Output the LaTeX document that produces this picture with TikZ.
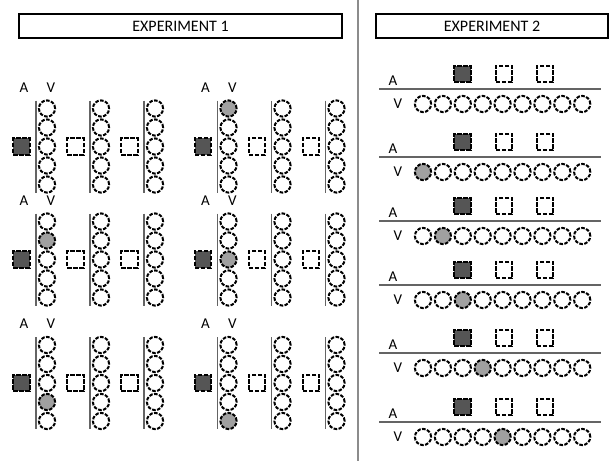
\documentclass[tikz,border=0pt]{standalone}
\usepackage{fontspec}
\setmainfont{Carlito}
\usepackage{tikz}
\definecolor{darksq}{RGB}{85,85,85}
\definecolor{cuegray}{RGB}{160,160,160}
\definecolor{rulegray}{RGB}{100,100,100}
\definecolor{divgray}{RGB}{140,140,140}

\tikzset{
  stimbox/.style={draw,line width=2pt,dash pattern=on 4.5pt off 1.5pt,
    minimum size=16.5pt,inner sep=0pt},
  stimdot/.style={circle,draw,line width=2pt,dash pattern=on 3.6pt off 1.4pt,
    minimum size=16.2pt,inner sep=0pt},
  lab/.style={font=\fontsize{15}{17}\selectfont,inner sep=0pt},
  head/.style={draw,line width=1.5pt,minimum width=#1,minimum height=24pt,
    font=\fontsize{16}{18}\selectfont,inner sep=0pt},
  sepline/.style={rulegray,line width=1.8pt}
}

\begin{document}
\begin{tikzpicture}[x=1pt,y=-1pt]
  \useasboundingbox (0,0) rectangle (611,461);
  % divider between the two experiments
  \draw[divgray,line width=1.6pt] (358,0) -- (358,461);
  \node[head=323pt] (exp1) at (180.5,26) {EXPERIMENT 1};
  \node[head=232pt] (exp2) at (492,26) {EXPERIMENT 2};

  % experiment 1: six panels, three columns each
  \foreach \row/\cy in {0/108.5,1/221.5,2/345}{
    \foreach \col/\cx in {0/0,1/181.5}{
      \pgfmathtruncatemacro{\p}{2*\row+\col}
      \node[lab] (a\p) at (24+\cx,\cy-21) {A};
      \node[lab] (v\p) at (51+\cx,\cy-21) {V};
      \foreach \g in {0,1,2}{
        \pgfmathsetmacro{\lx}{36+\cx+54*\g}
        \draw[sepline] (\lx,\cy-8) -- (\lx,\cy+84);
        \ifnum\g=0
          \node[stimbox,fill=darksq] (sq\p\g) at (\lx-14.5,\cy+38) {};
        \else
          \node[stimbox] (sq\p\g) at (\lx-14.5,\cy+38) {};
        \fi
        \foreach \k in {1,...,5}{
          \pgfmathtruncatemacro{\hit}{(\g==0)&&(\k==\p)}
          \ifnum\hit=1
            \node[stimdot,fill=cuegray] (c\p\g\k) at (\lx+11,\cy+19*\k-19) {};
          \else
            \node[stimdot] (c\p\g\k) at (\lx+11,\cy+19*\k-19) {};
          \fi
        }
      }
    }
  }

  % experiment 2: six rows
  \foreach \p/\ly in {0/89,1/157,2/221,3/285,4/353,5/422}{
    \draw[sepline] (379,\ly) -- (601,\ly);
    \node[lab] (aa\p) at (393,\ly-8) {A};
    \node[lab] (vv\p) at (398,\ly+15) {V};
    \node[stimbox,fill=darksq] (s\p a) at (462.5,\ly-15) {};
    \node[stimbox] (s\p b) at (504,\ly-15) {};
    \node[stimbox] (s\p c) at (545,\ly-15) {};
    \foreach \k in {1,...,9}{
      \ifnum\k=\p
        \node[stimdot,fill=cuegray] (d\p\k) at (423+19.9*\k-19.9,\ly+15) {};
      \else
        \node[stimdot] (d\p\k) at (423+19.9*\k-19.9,\ly+15) {};
      \fi
    }
  }
\end{tikzpicture}
\end{document}
